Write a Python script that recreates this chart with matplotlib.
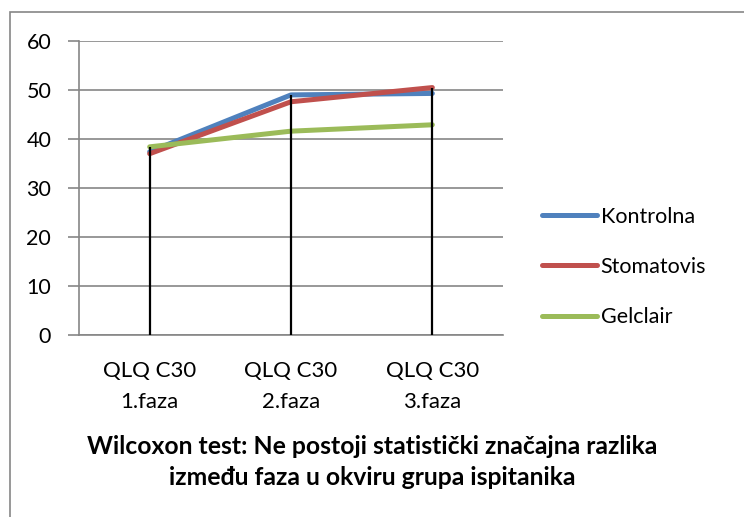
import matplotlib
matplotlib.use("Agg")
import matplotlib.pyplot as plt
from matplotlib.patches import Rectangle

# podaci procijenjeni sa slike
faze = ["QLQ C30\n1.faza", "QLQ C30\n2.faza", "QLQ C30\n3.faza"]
kontrolna = [37.4, 49.0, 49.3]
stomatovis = [37.0, 47.6, 50.5]
gelclair = [38.4, 41.6, 42.9]
grupe = ["Kontrolna", "Stomatovis", "Gelclair"]
boje = ["#4F81BD", "#C0504D", "#9BBB59"]
naslov = ("Wilcoxon test: Ne postoji statistički značajna razlika\n"
          "između faza u okviru grupa ispitanika")

plt.rcParams["font.family"] = ["Lato", "DejaVu Sans"]

fig = plt.figure(figsize=(7.44, 5.17), dpi=100)
ax = fig.add_axes([79 / 744, 1 - 335 / 517, 424 / 744, 294 / 517])

x = list(range(len(faze)))
for vals, ime, boja in zip([kontrolna, stomatovis, gelclair], grupe, boje):
    ax.plot(x, vals, color=boja, lw=3.6, label=ime, solid_capstyle="round", zorder=3)

# drop lines (kao u Excelu)
vrh = [max(a, b, c) for a, b, c in zip(kontrolna, stomatovis, gelclair)]
ax.vlines(x, 0, vrh, color="black", lw=1.6, zorder=4)

ax.set_xlim(-0.5, 2.5)
ax.set_ylim(0, 60)
ax.set_yticks(range(0, 61, 10))
ax.set_xticks(x)
ax.set_xticklabels(faze, fontsize=16, linespacing=1.65)
ax.tick_params(axis="y", labelsize=15.5, length=8, width=1.2, color="#868686", pad=12)
ax.tick_params(axis="x", length=0, pad=19)
ax.yaxis.grid(True, color="#868686", lw=1.2)
ax.set_axisbelow(True)
for s in ["top", "right"]:
    ax.spines[s].set_visible(False)
for s in ["left", "bottom"]:
    ax.spines[s].set_color("#868686")
    ax.spines[s].set_linewidth(1.2)

# naslov osi je centriran na cijeloj slici
fig.text(0.5, 1 - 462 / 517, naslov, ha="center", va="center", fontsize=17.8,
         fontweight="bold", linespacing=1.45)

leg = ax.legend(loc="center left", bbox_to_anchor=(523 / 744, 1 - 267 / 517),
                bbox_transform=fig.transFigure, frameon=False, fontsize=15.5,
                handlelength=2.56, handletextpad=0.15, labelspacing=1.4)

fig.patches.append(Rectangle((10 / 744, -0.05), 1.1, 1 - 12 / 517 + 0.05,
                             transform=fig.transFigure, fill=False,
                             edgecolor="#868686", lw=1.2))

fig.savefig("out.png", dpi=100)
